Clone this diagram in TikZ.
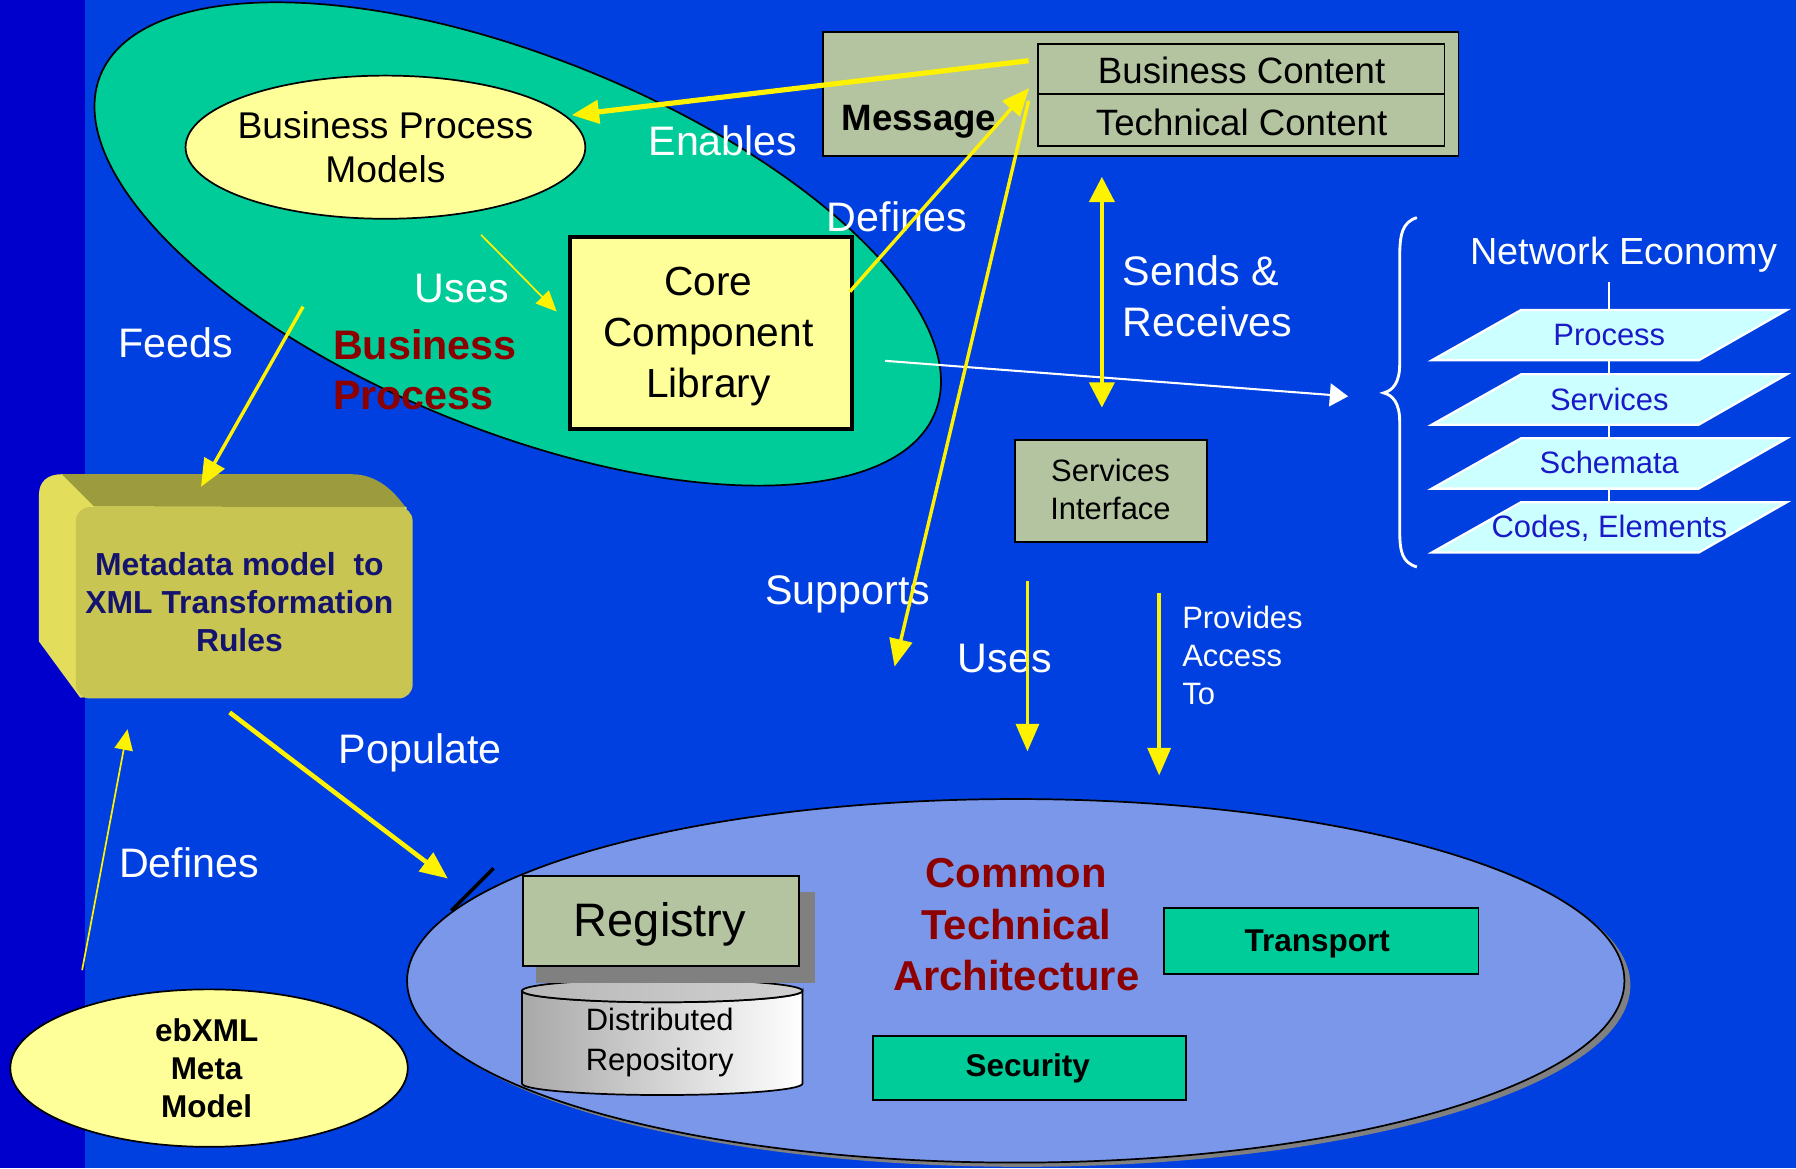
\documentclass[tikz,border=0pt]{standalone}
\usepackage{fontspec}
\setmainfont{Liberation Sans}
\usetikzlibrary{arrows.meta,shapes.geometric}
\definecolor{bgblue}{RGB}{0,64,224}
\definecolor{stripblue}{RGB}{0,0,204}
\definecolor{bpgreen}{RGB}{0,204,153}
\definecolor{paleyellow}{RGB}{255,255,153}
\definecolor{sage}{RGB}{180,196,160}
\definecolor{ctablue}{RGB}{123,151,233}
\definecolor{darkred}{RGB}{140,0,0}
\definecolor{navy}{RGB}{20,20,110}
\definecolor{paracyan}{RGB}{204,255,255}
\definecolor{parablue}{RGB}{26,26,200}
\definecolor{metafront}{RGB}{200,197,82}
\definecolor{metatop}{RGB}{156,155,62}
\definecolor{metaside}{RGB}{226,222,92}
\definecolor{shadowgray}{RGB}{128,128,128}
\definecolor{cylgray}{RGB}{168,168,168}
\newcommand\myfs[2]{\fontsize{#1}{#2}\selectfont}
\begin{document}
\begin{tikzpicture}[x=1pt,y=-1pt,
  wlbl/.style={text=white,inner sep=0pt,anchor=base west,font=\myfs{36}{44}},
  sbox/.style={draw=black,line width=1.5pt,inner sep=0pt,anchor=north west},
  txt/.style={inner sep=0pt,anchor=base,align=center},
  bighead/.style={-{Triangle[length=24pt,width=20pt]}},
  smallhead/.style={-{Triangle[length=18pt,width=16pt]}},
  para/.style={draw=white,line width=2pt,fill=paracyan,line join=miter},
  yarr/.style={draw=yellow,line width=3pt},
]
% background
\fill[stripblue] (0,0) rectangle (74,1020);
\fill[bgblue] (74,0) rectangle (1568,1020);
\useasboundingbox (0,0) rectangle (1568,1020);

% ---------- business process ellipse ----------
\node[ellipse,draw=black,line width=1.5pt,fill=bpgreen,minimum width=786pt,minimum height=326pt,inner sep=0pt,rotate=-22] (bpe) at (452,213) {};
\node[ellipse,draw=black,line width=1.5pt,fill=paleyellow,minimum width=349pt,minimum height=125pt,inner sep=0pt] (bpm) at (336.5,128.5) {};
\node[txt,font=\myfs{32.5}{38.7}] (bpmt) at (336.5,159.5) {Business Process\\Models};
\node[sbox,line width=3.5pt,fill=paleyellow,minimum width=246pt,minimum height=168pt] (ccl) at (496.2,205.2) {};
\node[txt,font=\myfs{35.5}{44.5}] (cclt) at (618.5,347) {Core\\Component\\Library};
\node[inner sep=0pt,anchor=base west,align=left,text=darkred,font=\bfseries\myfs{36}{43.7}] (bpt) at (290.7,357.4) {Business\\Process};

% ---------- message ----------
\node[sbox,fill=sage,minimum width=554.6pt,minimum height=108.6pt] (msg) at (718,27) {};
\node[sbox,fill=sage,minimum width=355pt,minimum height=43.8pt] (bc) at (905.3,37.4) {};
\node[sbox,fill=sage,minimum width=355pt,minimum height=45.8pt] (tc) at (905.3,81.2) {};
\node[txt,font=\myfs{32}{38}] (bct) at (1084,72.8) {Business Content};
\node[txt,font=\myfs{32}{38}] (tct) at (1084,118) {Technical Content};
\node[inner sep=0pt,anchor=base west,font=\bfseries\myfs{32}{38}] (msgt) at (734.5,113.6) {Message};

% ---------- services interface ----------
\node[sbox,fill=sage,minimum width=168pt,minimum height=89pt] (si) at (885.3,383.6) {};
\node[txt,font=\myfs{27}{33.4}] (sit) at (969.5,453.7) {Services\\Interface};

% ---------- network economy ----------
\node[inner sep=0pt,anchor=base west,text=white,font=\myfs{33}{40}] (net) at (1283.7,230.5) {Network Economy};
\coordinate (ne1) at (1405,246);
\coordinate (ne2) at (1405,450);
\draw[white,line width=2pt] (ne1) -- (ne2);
\foreach \yy/\tt/\nn in {270.6/Process/pa,326.8/Services/pb,382.6/Schemata/pc,438.4/{Codes, Elements}/pd}{
  \draw[para] (1328,\yy) -- (1560,\yy) -- (1483,\yy+44) -- (1250,\yy+44) -- cycle;
  \node[txt,text=parablue,font=\myfs{27}{33}] (\nn) at (1405,\yy+31.2) {\tt};
}
\draw[white,line width=2.5pt] (1237,190) .. controls (1224,194) and (1222,205) .. (1222,225) -- (1222,318) .. controls (1222,334) and (1216,341) .. (1208,343) .. controls (1216,345) and (1222,352) .. (1222,368) -- (1222,462) .. controls (1222,482) and (1224,491) .. (1237,495);

% ---------- metadata box ----------
\fill[metaside] (34,432) .. controls (34,420) and (42,414) .. (54,414) -- (307,414) -- (355,443) -- (355,600) -- (70,609) -- (34,560) -- cycle;
\fill[metatop] (54,414) -- (307,414) .. controls (330,414) and (345,430) .. (354,443) -- (82,442) -- cycle;
\node[sbox,draw=none,fill=metafront,rounded corners=12pt,minimum width=294pt,minimum height=167pt] (meta) at (65.5,442) {};
\node[txt,text=navy,font=\bfseries\myfs{27.8}{33.4}] (metat) at (209,568.8) {Metadata model~ to\\XML Transformation\\Rules};

% ---------- ebXML ----------
\node[ellipse,draw=black,line width=1.5pt,fill=paleyellow,minimum width=347pt,minimum height=137.5pt,inner sep=0pt] (ebx) at (182.5,932.5) {};
\node[txt,font=\bfseries\myfs{27.5}{33.2}] (ebxt) at (180.4,975.8) {ebXML\\Meta\\Model};

% ---------- common technical architecture ----------
\node[ellipse,fill=shadowgray,minimum width=1062.8pt,minimum height=317.4pt,inner sep=0pt] (ctash) at (892,860) {};
\node[ellipse,draw=black,line width=1.5pt,fill=ctablue,minimum width=1062.8pt,minimum height=317.4pt,inner sep=0pt] (cta) at (886.8,856.3) {};
\coordinate (tk1) at (431,758);
\coordinate (tk2) at (394,795);
\draw[black,line width=3pt] (tk1) -- (tk2);
\shadedraw[left color=cylgray,right color=white,draw=black,line width=1.5pt] (455.7,865) -- (455.7,946) arc[start angle=180,end angle=360,x radius=122.45pt,y radius=10pt] -- (700.6,865) arc[start angle=0,end angle=-180,x radius=122.45pt,y radius=10pt] -- cycle;
\shadedraw[left color=black!28,right color=black!18,draw=black,line width=1.5pt] (578.15,865) ellipse [x radius=122.45pt,y radius=10pt];
\fill[shadowgray] (468.1,779) rectangle (711.6,858.5);
\node[sbox,fill=sage,minimum width=241pt,minimum height=78.6pt] (reg) at (455.7,763.9) {};
\node[txt,font=\myfs{41}{48}] (regt) at (576.2,817.8) {Registry};
\node[txt,font=\myfs{27}{34.4}] (drt) at (576,934.2) {Distributed\\Repository};
\node[txt,text=darkred,font=\bfseries\myfs{36.5}{45.1}] (ctat) at (887.2,864.9) {Common\\Technical\\Architecture};
\node[sbox,fill=bpgreen,minimum width=274.5pt,minimum height=57.6pt] (trans) at (1015.5,792.2) {};
\node[txt,font=\bfseries\myfs{27.5}{33}] (transt) at (1150,830.9) {Transport};
\node[sbox,fill=bpgreen,minimum width=273.6pt,minimum height=56.2pt] (sec) at (761.3,903.6) {};
\node[txt,font=\bfseries\myfs{27.5}{33}] (sect) at (897.3,940) {Security};

% ---------- white labels ----------
\node[wlbl] (enables) at (566,136) {Enables};
\node[wlbl] (defines1) at (721.7,201.7) {Defines};
\node[wlbl] (uses1) at (362,264.3) {Uses};
\node[wlbl] (feeds) at (103,312) {Feeds};
\node[wlbl,align=left,font=\myfs{36}{45}] (sends) at (980.2,294) {Sends \&\\Receives};
\node[wlbl] (supports) at (668,528) {Supports};
\node[wlbl] (uses2) at (836,587) {Uses};
\node[wlbl] (populate) at (295.7,666.7) {Populate};
\node[wlbl] (defines2) at (103.7,766.5) {Defines};
\node[wlbl,align=left,font=\myfs{27}{33}] (provides) at (1032,615) {Provides\\Access\\To};

% ---------- connectors ----------
\coordinate (wS) at (772.7,315);
\coordinate (wE) at (1177,346);
\coordinate (enS) at (898,53);
\coordinate (enE) at (499,100.5);
\coordinate (defS) at (742,254.6);
\coordinate (defE) at (898.5,77);
\coordinate (supS) at (898,88);
\coordinate (supE) at (781,582);
\coordinate (usS) at (420,205);
\coordinate (usE) at (486,272);
\coordinate (fdS) at (264.6,267.7);
\coordinate (fdE) at (175.5,425);
\coordinate (srT) at (962,154.4);
\coordinate (srB) at (962,355.8);
\coordinate (u2S) at (897,507);
\coordinate (u2E) at (897,656);
\coordinate (pvS) at (1012,518);
\coordinate (pvE) at (1012,677);
\coordinate (poS) at (200.5,622);
\coordinate (poE) at (391,767);
\coordinate (dlS) at (71.7,847);
\coordinate (dlE) at (111.3,636.7);

\draw[white,line width=1.8pt,-{Triangle[length=16pt,width=20pt]}] (wS) -- (wE);
\draw[yarr,line width=4.5pt,bighead] (enS) -- (enE);
\draw[yarr,bighead] (defS) -- (defE);
\draw[yarr,bighead] (supS) -- (supE);
\draw[yarr,line width=1.5pt,smallhead] (usS) -- (usE);
\draw[yarr,bighead] (fdS) -- (fdE);
\draw[yarr,{Triangle[length=22pt,width=22pt]}-{Triangle[length=22pt,width=22pt]}] (srT) -- (srB);
\draw[yarr,bighead] (u2S) -- (u2E);
\draw[yarr,bighead] (pvS) -- (pvE);
\draw[yarr,line width=4pt,bighead] (poS) -- (poE);
\draw[yarr,line width=1.5pt,smallhead] (dlS) -- (dlE);
\end{tikzpicture}
\end{document}
